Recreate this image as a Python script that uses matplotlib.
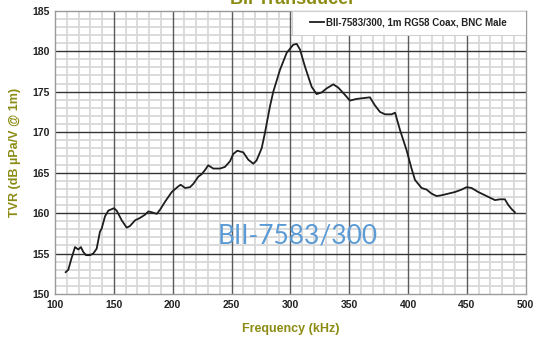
import matplotlib
matplotlib.use("Agg")
import matplotlib.pyplot as plt
from matplotlib.ticker import MultipleLocator
from matplotlib.patches import Rectangle

freq_khz = [109.1, 111.3, 114.0, 117.0, 119.8, 122.0, 124.0, 126.3, 129.7, 132.5, 135.4,
            138.2, 139.7, 142.5, 145.3, 150.1, 152.4, 156.7, 160.9, 163.7, 168.0, 172.2,
            176.5, 179.3, 182.2, 186.4, 189.2, 193.5, 199.2, 204.8, 206.8, 210.5, 214.7,
            217.5, 221.8, 224.6, 227.4, 230.2, 234.5, 240.2, 244.4, 248.7, 251.5, 254.9,
            260.0, 264.2, 268.5, 271.3, 275.6, 278.4, 282.7, 285.5, 291.2, 296.9, 302.5,
            305.4, 308.2, 312.4, 318.1, 322.3, 326.6, 330.8, 336.5, 340.7, 346.4, 350.6,
            356.3, 362.0, 367.6, 371.9, 376.1, 380.4, 386.0, 389.0, 393.1, 398.7, 403.0,
            405.9, 411.5, 415.8, 420.0, 424.3, 428.5, 434.2, 439.9, 445.5, 449.8, 454.0,
            459.7, 466.8, 473.9, 478.1, 482.3, 485.2, 488.0, 490.8]
tvr_db = [152.7, 153.0, 154.4, 155.8, 155.5, 155.8, 155.2, 154.8, 154.8, 155.0, 155.6,
          157.7, 158.1, 159.6, 160.3, 160.6, 160.3, 159.1, 158.2, 158.4, 159.1, 159.4,
          159.8, 160.2, 160.1, 159.9, 160.4, 161.4, 162.6, 163.3, 163.5, 163.1, 163.2,
          163.6, 164.5, 164.8, 165.3, 165.9, 165.5, 165.5, 165.7, 166.4, 167.3, 167.7,
          167.5, 166.6, 166.1, 166.5, 168.0, 169.9, 173.2, 175.0, 177.7, 179.8, 180.8,
          180.9, 180.2, 178.1, 175.6, 174.7, 174.9, 175.4, 175.9, 175.5, 174.6, 173.9,
          174.1, 174.2, 174.3, 173.3, 172.5, 172.2, 172.2, 172.4, 170.3, 167.8, 165.5,
          164.1, 163.1, 162.9, 162.4, 162.1, 162.2, 162.4, 162.6, 162.9, 163.2, 163.1,
          162.6, 162.1, 161.6, 161.7, 161.7, 161.0, 160.5, 160.1]

x_major = [150, 200, 250, 300, 350, 400, 450]
y_major = [155, 160, 165, 170, 175, 180]

series_label = "BII-7583/300, 1m RG58 Coax, BNC Male"
title_text = "BII Transducer"
watermark = "BII-7583/300"
x_label = "Frequency (kHz)"
y_label = "TVR (dB µPa/V @ 1m)"

olive = "#8c8c14"
plt.rcParams['font.family'] = ['Liberation Sans', 'DejaVu Sans']

fig = plt.figure(figsize=(5.33, 3.41), dpi=100)
ax = fig.add_axes([0.1032, 0.1378, 0.8831, 0.8308])

ax.set_xlim(100, 500)
ax.set_ylim(150, 185)
ax.xaxis.set_major_locator(MultipleLocator(50))
ax.xaxis.set_minor_locator(MultipleLocator(10))
ax.yaxis.set_major_locator(MultipleLocator(5))
ax.yaxis.set_minor_locator(MultipleLocator(1))
ax.set_axisbelow(True)
ax.grid(which="minor", color="#d9d9d9", lw=1.3)
for xv in x_major:
    ax.axvline(xv, color="#5a5a5a", lw=1.0, zorder=1)
for yv in y_major:
    ax.axhline(yv, color="#333333", lw=1.0, zorder=1)

ax.plot(freq_khz, tvr_db, color="#1e1e1e", lw=1.3, label=series_label, zorder=3)

ax.tick_params(which="both", length=0, labelsize=7.5, colors="#222222", pad=4)
for lbl in ax.get_xticklabels() + ax.get_yticklabels():
    lbl.set_fontweight("bold")
for s in ax.spines.values():
    s.set_color("#9a9a9a")
    s.set_linewidth(1.0)

ax.set_xlabel(x_label, fontsize=9, fontweight="bold", color=olive, labelpad=10)
ax.set_ylabel(y_label, fontsize=9, fontweight="bold", color=olive, labelpad=8)

fig.text(0.548, 1 - 3.5 / 341, title_text, ha="center", va="baseline",
         fontsize=13, fontweight="bold", color=olive)

ax.text(0.516, 0.177, watermark, transform=ax.transAxes, ha="center", va="baseline",
        fontsize=19, color="#5b9bd5", fontweight="normal",
        family=["Lato", "DejaVu Sans"], zorder=2.5)

ax.add_patch(Rectangle((0.503, 0.915), 0.497, 0.085, transform=ax.transAxes,
                       facecolor="white", edgecolor="#d0d0d0", lw=0.8, zorder=4))
leg = ax.legend(loc="center", bbox_to_anchor=(0.751, 0.958), frameon=False,
                fontsize=7, handlelength=1.5, handletextpad=0.2, borderpad=0.2)
leg.set_zorder(5)
for t in leg.get_texts():
    t.set_fontweight("bold")
    t.set_color("#222222")

fig.savefig("out.png", dpi=100)
